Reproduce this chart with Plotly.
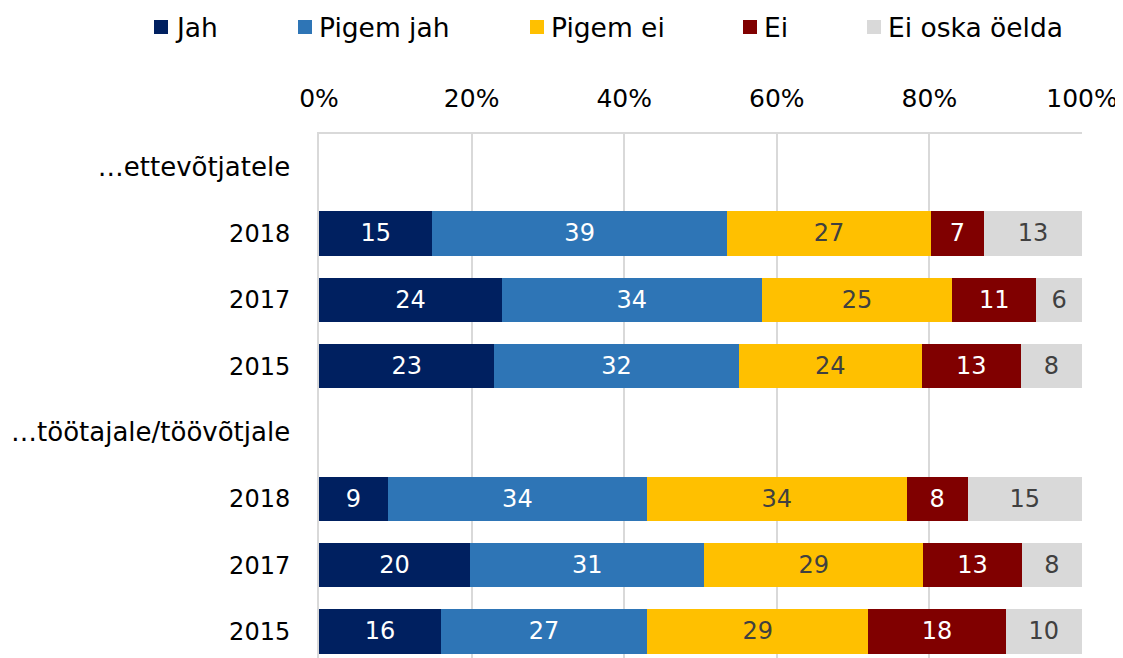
import plotly.graph_objects as go

# ---- data ----
row_labels = ["…ettevõtjatele", "2018", "2017", "2015",
              "…töötajale/töövõtjale", "2018", "2017", "2015"]
header_rows = [0, 4]
bar_rows = [1, 2, 3, 5, 6, 7]  # row index of each bar
series_names = ["Jah", "Pigem jah", "Pigem ei", "Ei", "Ei oska öelda"]
jah = [15, 24, 23, 9, 20, 16]
pigem_jah = [39, 34, 32, 34, 31, 27]
pigem_ei = [27, 25, 24, 34, 29, 29]
ei = [7, 11, 13, 8, 13, 18]
ei_oska = [13, 6, 8, 15, 8, 10]
x_ticks = [0, 20, 40, 60, 80, 100]
x_tick_labels = ["0%", "20%", "40%", "60%", "80%", "100%"]

series_values = [jah, pigem_jah, pigem_ei, ei, ei_oska]
colors = ["#002060", "#2E75B6", "#FFC000", "#800000", "#D9D9D9"]
text_colors = ["white", "white", "#404040", "white", "#404040"]

FONT = "DejaVu Sans, Verdana, sans-serif"
OFF = 8  # page body margin
W, H = 1123 - OFF, 658 - OFF
L, R, T, B = 319 - OFF, 41, 134 - OFF, 0

fig = go.Figure()
for name, vals, col, tcol in zip(series_names, series_values, colors, text_colors):
    fig.add_trace(go.Bar(
        name=name, y=bar_rows, x=vals, orientation="h",
        marker=dict(color=col, line=dict(width=0)),
        width=0.665,
        text=[str(v) for v in vals], textposition="inside",
        insidetextanchor="middle", textangle=0,
        textfont=dict(family=FONT, size=24, color=tcol),
        constraintext="none", showlegend=False,
    ))

# manual legend (screen pixel -> paper)
def px_x(px):
    return (px - OFF - L) / (W - L - R)

def px_y(py):
    return (H - B - (py - OFF)) / (H - T - B)

leg_marker_x = [154, 298, 530, 743, 867]
leg_y = 27
for name, col, mx in zip(series_names, colors, leg_marker_x):
    fig.add_shape(type="rect", xref="paper", yref="paper",
                  x0=px_x(mx), x1=px_x(mx + 14), y0=px_y(leg_y + 7), y1=px_y(leg_y - 7),
                  fillcolor=col, line=dict(width=0))
    fig.add_annotation(xref="paper", yref="paper", x=px_x(mx + 19), y=px_y(leg_y),
                       xanchor="left", yanchor="middle", text=name, showarrow=False,
                       font=dict(family=FONT, size=26.5, color="#000000"))

y_ticktext = [
    ('<span style="font-size:26px">%s</span>' % lab) if i in header_rows else lab
    for i, lab in enumerate(row_labels)
]

fig.update_layout(
    width=W, height=H,
    margin=dict(l=L, r=R, t=T, b=B, pad=0),
    barmode="stack", barnorm="percent",
    plot_bgcolor="white", paper_bgcolor="white",
    font=dict(family=FONT, size=24, color="#000000"),
    xaxis=dict(side="top", range=[0, 100], tickmode="array", tickvals=x_ticks,
               ticktext=x_tick_labels, automargin=False,
               showgrid=True, gridcolor="#D9D9D9", gridwidth=2,
               showline=True, linecolor="#D9D9D9", linewidth=2,
               zeroline=False, ticks="", ticklabelstandoff=15,
               tickfont=dict(family=FONT, size=25, color="#000000"), fixedrange=True),
    yaxis=dict(range=[7.40, -0.5], tickmode="array", tickvals=list(range(len(row_labels))),
               ticktext=y_ticktext, automargin=False,
               showgrid=False, showline=True, linecolor="#D9D9D9", linewidth=2,
               zeroline=False, ticks="", ticklabelstandoff=22,
               tickfont=dict(family=FONT, size=24, color="#000000"), fixedrange=True),
)

fig.write_html("out.html")
